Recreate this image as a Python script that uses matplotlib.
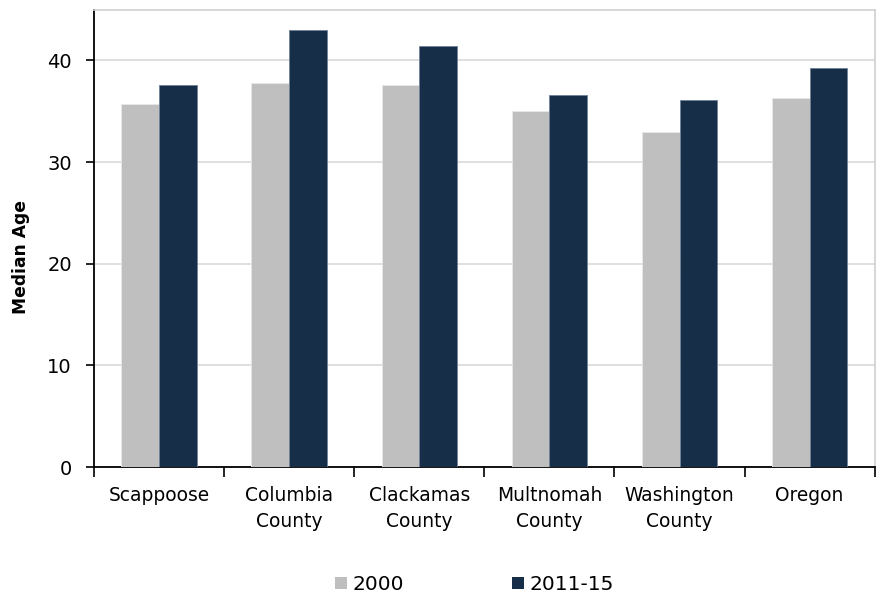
import matplotlib
matplotlib.use("Agg")
import matplotlib.pyplot as plt
import numpy as np
from matplotlib.patches import Patch

categories = ["Scappoose", "Columbia\nCounty", "Clackamas\nCounty", "Multnomah\nCounty",
              "Washington\nCounty", "Oregon"]
series_names = ["2000", "2011-15"]
age_2000 = [35.7, 37.8, 37.6, 35.0, 33.0, 36.3]
age_2015 = [37.6, 43.0, 41.4, 36.6, 36.1, 39.2]
y_ticks = [0, 10, 20, 30, 40]

plt.rcParams["font.family"] = ["DejaVu Sans"]

fig = plt.figure(figsize=(8.8, 5.94), dpi=100)
ax = fig.add_axes([0.1068, 0.2138, 0.8872, 0.7702])

gray = "#BFBFBF"
navy = "#172E48"
x = np.arange(len(categories))
w = 0.29
ax.bar(x - w / 2, age_2000, w, color=gray, edgecolor="#E8E8E8", linewidth=0.6, zorder=3)
ax.bar(x + w / 2, age_2015, w, color=navy, edgecolor="#6F8196", linewidth=0.6, zorder=3)

ax.set_xlim(-0.5, len(categories) - 0.5)
ax.set_ylim(0, 45)
ax.set_yticks(y_ticks)
ax.set_yticklabels([str(t) for t in y_ticks], fontsize=14)
ax.yaxis.grid(True, color="#D9D9D9", linewidth=1.2, zorder=0)
ax.set_axisbelow(True)

# category labels centred, ticks on category boundaries
ax.set_xticks(x)
ax.set_xticklabels(categories, fontsize=13.4, linespacing=1.45)
ax.tick_params(axis="x", which="major", length=0, pad=14)
ax.set_xticks(np.arange(len(categories) + 1) - 0.5, minor=True)
ax.tick_params(axis="x", which="minor", length=7, width=1.2, color="black", direction="out")
ax.tick_params(axis="y", length=6, width=1.2, color="black", direction="out", pad=10)

for side in ["left", "bottom"]:
    ax.spines[side].set_color("black")
    ax.spines[side].set_linewidth(1.3)
for side in ["top", "right"]:
    ax.spines[side].set_color("#D0D0D0")
    ax.spines[side].set_linewidth(1.2)

ax.set_ylabel("Median Age", fontsize=12.3, fontweight="bold")
ax.yaxis.set_label_coords(-0.0825, 0.46)

handles = [Patch(facecolor=gray, edgecolor="none"), Patch(facecolor=navy, edgecolor="none")]
fig.legend(handles, series_names, loc="center", bbox_to_anchor=(0.539, 0.016),
           ncol=2, frameon=False, fontsize=14.5, handlelength=0.6, handleheight=0.6,
           handletextpad=0.25, columnspacing=5.4, borderpad=0)

fig.savefig("out.png", dpi=100)
